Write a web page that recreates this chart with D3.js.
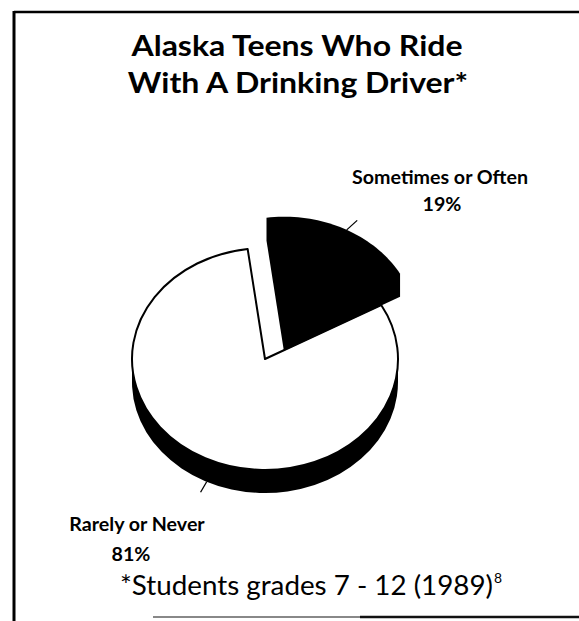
<!DOCTYPE html>
<html>
<head>
<meta charset="utf-8">
<script src="https://cdn.jsdelivr.net/npm/d3@7"></script>
<style>
  body { margin: 0; background: #fff; }
  svg { display: block; }
  text { font-family: Lato, "Open Sans", sans-serif; fill: #000; }
</style>
</head>
<body>
<svg id="chart" width="579" height="621"></svg>
<script>
// ---------- data ----------
const categories = ["Sometimes or Often", "Rarely or Never"];
const values = [19, 81];
const valueLabels = ["19%", "81%"];
const titleLines = ["Alaska Teens Who Ride", "With A Drinking Driver*"];
const footnote = "*Students grades 7 - 12 (1989)";
const footnoteRef = "8";

// ---------- layout ----------
const width = 579, height = 621;
const cx = 265, cy = 359;      // centre of the top face of the big slice
const rx = 133, ry = 111;      // ellipse radii (tilted pie)
const k = ry / rx;
const depth = 23;              // thickness of the pie
const explode = 42;            // how far the small slice is pulled out
const deg = Math.PI / 180;

const svg = d3.select("#chart");

// frame
svg.append("line").attr("x1", 14).attr("x2", width).attr("y1", 12).attr("y2", 12)
  .attr("stroke", "#000").attr("stroke-width", 2.5);
svg.append("line").attr("x1", 14).attr("x2", 14).attr("y1", 11).attr("y2", height)
  .attr("stroke", "#000").attr("stroke-width", 3);
svg.append("line").attr("x1", 153).attr("x2", 360).attr("y1", 617).attr("y2", 617)
  .attr("stroke", "#888").attr("stroke-width", 2);
svg.append("line").attr("x1", 360).attr("x2", width).attr("y1", 617).attr("y2", 617)
  .attr("stroke", "#111").attr("stroke-width", 2.5);

// squeeze helper: keeps the font size but narrows the glyphs by a factor
function squeeze(sel, factor) {
  const w = sel.node().getComputedTextLength();
  sel.attr("textLength", w * factor).attr("lengthAdjust", "spacingAndGlyphs");
}

// ---------- title ----------
const t1 = svg.append("text").attr("x", 297).attr("y", 56).attr("text-anchor", "middle")
  .attr("font-size", 29).attr("font-weight", "bold").text(titleLines[0]);
const titleFactor = 331 / t1.node().getComputedTextLength();
squeeze(t1, titleFactor);
const t2 = svg.append("text").attr("x", 298).attr("y", 93).attr("text-anchor", "middle")
  .attr("font-size", 29).attr("font-weight", "bold").text(titleLines[1]);
squeeze(t2, titleFactor);

// ---------- pie ----------
const pie = d3.pie().sort(null).value(d => d)
  .startAngle(-7.5 * deg).endAngle(352.5 * deg);
const slices = pie(values);

const arc = d3.arc().innerRadius(0).outerRadius(rx);

// projected point on the tilted pie
function proj(a, r, ox, oy) {
  return [ox + r * Math.sin(a), oy - r * Math.cos(a) * k];
}

// big white slice (Rarely or Never)
const big = slices[1];
const gBig = svg.append("g").attr("transform", `translate(${cx},${cy}) scale(1,${k})`);
gBig.append("path").attr("d", arc(big))
  .attr("transform", `translate(0,${depth / k})`).attr("fill", "#000");
gBig.append("rect").attr("x", -rx).attr("y", 0).attr("width", 2 * rx).attr("height", depth / k)
  .attr("fill", "#000");
gBig.append("path").attr("d", arc(big)).attr("fill", "#fff")
  .attr("stroke", "#000").attr("stroke-width", 2).attr("stroke-linejoin", "round")
  .attr("vector-effect", "non-scaling-stroke");

// small black slice (Sometimes or Often), pulled out along its middle angle
const small = slices[0];
const mid = (small.startAngle + small.endAngle) / 2;
const [sx, sy] = proj(mid, explode, cx, cy);
const pts = [];
d3.range(0, 41).forEach(i => {
  const a = small.startAngle + (small.endAngle - small.startAngle) * i / 40;
  const p = proj(a, rx, sx, sy);
  pts.push(p, [p[0], p[1] + depth]);
});
pts.push([sx, sy], [sx, sy + depth]);
const hull = d3.polygonHull(pts);
svg.append("path").attr("d", "M" + hull.join("L") + "Z").attr("fill", "#000");

// ---------- labels and leader lines ----------
const l1a = proj(mid + 1.5 * deg, rx, sx, sy), l1b = proj(mid + 3 * deg, rx + 15, sx, sy);
svg.append("line").attr("x1", l1a[0]).attr("y1", l1a[1]).attr("x2", l1b[0]).attr("y2", l1b[1])
  .attr("stroke", "#000").attr("stroke-width", 1.3);
const l2a = proj(206 * deg, rx, cx, cy + depth), l2b = proj(206 * deg, rx + 14, cx, cy + depth);
svg.append("line").attr("x1", l2a[0]).attr("y1", l2a[1]).attr("x2", l2b[0]).attr("y2", l2b[1])
  .attr("stroke", "#000").attr("stroke-width", 1.3);

const labSize = 19.5;
const lab1 = svg.append("text").attr("x", 440).attr("y", 184).attr("text-anchor", "middle")
  .attr("font-size", labSize).attr("font-weight", "bold").text(categories[0]);
const labFactor = 176 / lab1.node().getComputedTextLength();
squeeze(lab1, labFactor);
const lab2 = svg.append("text").attr("x", 442).attr("y", 211).attr("text-anchor", "middle")
  .attr("font-size", labSize).attr("font-weight", "bold").text(valueLabels[0]);
squeeze(lab2, labFactor);
const lab3 = svg.append("text").attr("x", 137).attr("y", 531).attr("text-anchor", "middle")
  .attr("font-size", labSize).attr("font-weight", "bold").text(categories[1]);
squeeze(lab3, labFactor);
const lab4 = svg.append("text").attr("x", 131).attr("y", 561).attr("text-anchor", "middle")
  .attr("font-size", labSize).attr("font-weight", "bold").text(valueLabels[1]);
squeeze(lab4, labFactor);

// ---------- footnote ----------
const fn = svg.append("text").attr("x", 120).attr("y", 595)
  .attr("font-size", 22).text(footnote);
const fnSize = 22 * 373 / fn.node().getComputedTextLength();
fn.attr("font-size", fnSize);
svg.append("text").attr("x", 120 + fn.node().getComputedTextLength() + 1).attr("y", 595 - fnSize * 0.42)
  .attr("font-size", fnSize * 0.5).text(footnoteRef);
</script>
</body>
</html>
